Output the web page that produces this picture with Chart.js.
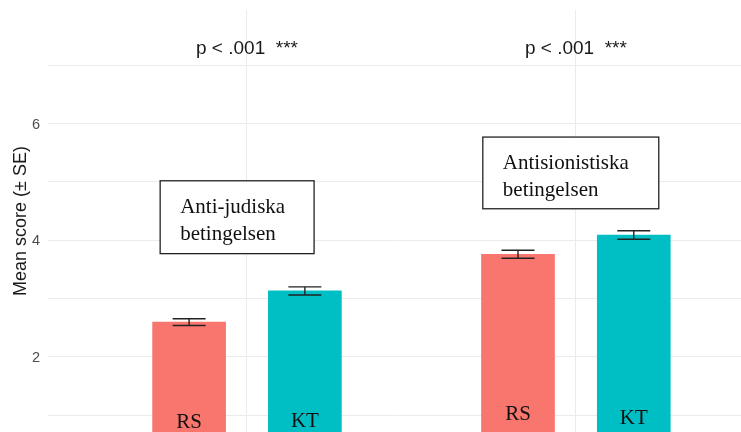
<!DOCTYPE html>
<html>
<head>
<meta charset="utf-8">
<script src="https://cdn.jsdelivr.net/npm/chart.js@4.4.1/dist/chart.umd.min.js"></script>
<style>
body{margin:0;background:#fff;overflow:hidden;}
canvas{display:block;}
</style>
</head>
<body>
<canvas id="grafico" width="741" height="432"></canvas>
<script>

// ==============================
// DATOS
// ==============================

const grupos = [1, 2];
const pTexto = ["p < .001  ***", "p < .001  ***"];
const cajas = [["Anti-judiska", "betingelsen"], ["Antisionistiska", "betingelsen"]];

const barrasRS = [2.595, 3.76];
const barrasKT = [3.13, 4.09];
const seRS = [0.057, 0.069];
const seKT = [0.069, 0.074];

const lineasY = [1, 2, 3, 4, 5, 6, 7];
const etiquetasY = [2, 4, 6];

// ==============================
// ESTILO
// ==============================

const desplaza = 0.176;
const rojo = "#F8766D";
const turquesa = "#00BFC4";
const sans = "'Liberation Sans', Arial, sans-serif";
const serif = "'Liberation Serif', 'Times New Roman', serif";

// posiciones de textos (en unidades de datos)
const posP = 7.29;
const posCajas = [
  {x1: 0.736, x2: 1.204, y1: 5.02, y2: 3.77},
  {x1: 1.717, x2: 2.252, y1: 5.77, y2: 4.54}
];
const posEtiq = [
  {x: 1 - desplaza, y: 0.87, t: "RS"},
  {x: 1 + desplaza, y: 0.885, t: "KT"},
  {x: 2 - desplaza, y: 1.01, t: "RS"},
  {x: 2 + desplaza, y: 0.94, t: "KT"}
];

// ==============================
// PLUGIN BARRAS DE ERROR Y TEXTOS
// ==============================

const extras = {
  id: "extras",
  afterDatasetsDraw(chart) {
    const c = chart.ctx;
    const xs = chart.scales.x;
    const ys = chart.scales.y;

    c.save();

    // etiquetas eje y
    c.fillStyle = "#4d4d4d";
    c.font = "14.5px " + sans;
    c.textAlign = "right";
    c.textBaseline = "middle";
    etiquetasY.forEach(v => {
      c.fillText(String(v), 40, ys.getPixelForValue(v) + 1);
    });

    // barras de error
    c.strokeStyle = "#222";
    c.lineWidth = 1.4;
    const err = (x, m, se) => {
      const px = xs.getPixelForValue(x);
      const a = ys.getPixelForValue(m + se);
      const b = ys.getPixelForValue(m - se);
      const w = 16.5;
      c.beginPath();
      c.moveTo(px - w, a); c.lineTo(px + w, a);
      c.moveTo(px - w, b); c.lineTo(px + w, b);
      c.moveTo(px, a); c.lineTo(px, b);
      c.stroke();
    };
    grupos.forEach((g, i) => {
      err(g - desplaza, barrasRS[i], seRS[i]);
      err(g + desplaza, barrasKT[i], seKT[i]);
    });

    // p valores
    c.fillStyle = "#1a1a1a";
    c.font = "19px " + sans;
    c.textAlign = "center";
    grupos.forEach((g, i) => {
      c.fillText(pTexto[i], xs.getPixelForValue(g), ys.getPixelForValue(posP));
    });

    // cajas
    c.font = "21px " + serif;
    c.textAlign = "left";
    posCajas.forEach((p, i) => {
      const x1 = xs.getPixelForValue(p.x1);
      const x2 = xs.getPixelForValue(p.x2);
      const y1 = ys.getPixelForValue(p.y1);
      const y2 = ys.getPixelForValue(p.y2);
      c.fillStyle = "#fff";
      c.fillRect(x1, y1, x2 - x1, y2 - y1);
      c.strokeStyle = "#222";
      c.lineWidth = 1.3;
      c.strokeRect(x1, y1, x2 - x1, y2 - y1);
      c.fillStyle = "#111";
      c.fillText(cajas[i][0], x1 + 20, y1 + 26.5);
      c.fillText(cajas[i][1], x1 + 20, y1 + 53.5);
    });

    // etiquetas RS / KT
    c.font = "21px " + serif;
    c.textAlign = "center";
    c.fillStyle = "#111";
    posEtiq.forEach(e => {
      c.fillText(e.t, xs.getPixelForValue(e.x), ys.getPixelForValue(e.y));
    });
    c.restore();
  }
};

// ==============================
// GRAFICO
// ==============================

const ctx = document.getElementById("grafico").getContext("2d");

new Chart(ctx, {
  type: "bar",
  data: {
    datasets: [
      {
        label: "RS",
        data: grupos.map((g, i) => ({x: g - desplaza, y: barrasRS[i]})),
        backgroundColor: rojo,
        barThickness: 73,
        grouped: false
      },
      {
        label: "KT",
        data: grupos.map((g, i) => ({x: g + desplaza, y: barrasKT[i]})),
        backgroundColor: turquesa,
        barThickness: 73,
        grouped: false
      }
    ]
  },
  options: {
    responsive: false,
    animation: false,
    layout: {padding: {top: 10, left: 0, right: 0, bottom: 0}},
    plugins: {
      legend: {display: false},
      tooltip: {enabled: false}
    },
    scales: {
      x: {
        type: "linear",
        min: 0.395,
        max: 2.502,
        offset: false,
        border: {display: false},
        grid: {color: "#ebebeb", lineWidth: 1, drawTicks: false, offset: false},
        ticks: {display: false},
        afterBuildTicks: s => { s.ticks = grupos.map(v => ({value: v})); },
        afterFit: s => { s.height = 0; }
      },
      y: {
        min: 0.71,
        max: 7.95,
        border: {display: false},
        grid: {color: "#ebebeb", lineWidth: 1, drawTicks: false},
        afterBuildTicks: s => { s.ticks = lineasY.map(v => ({value: v})); },
        afterFit: s => { s.width = 48; },
        ticks: {display: false},
        title: {
          display: true,
          text: "Mean score (± SE)",
          color: "#1a1a1a",
          font: {family: sans, size: 18},
          padding: {top: 10, bottom: 0}
        }
      }
    }
  },
  plugins: [extras]
});

</script>
</body>
</html>
